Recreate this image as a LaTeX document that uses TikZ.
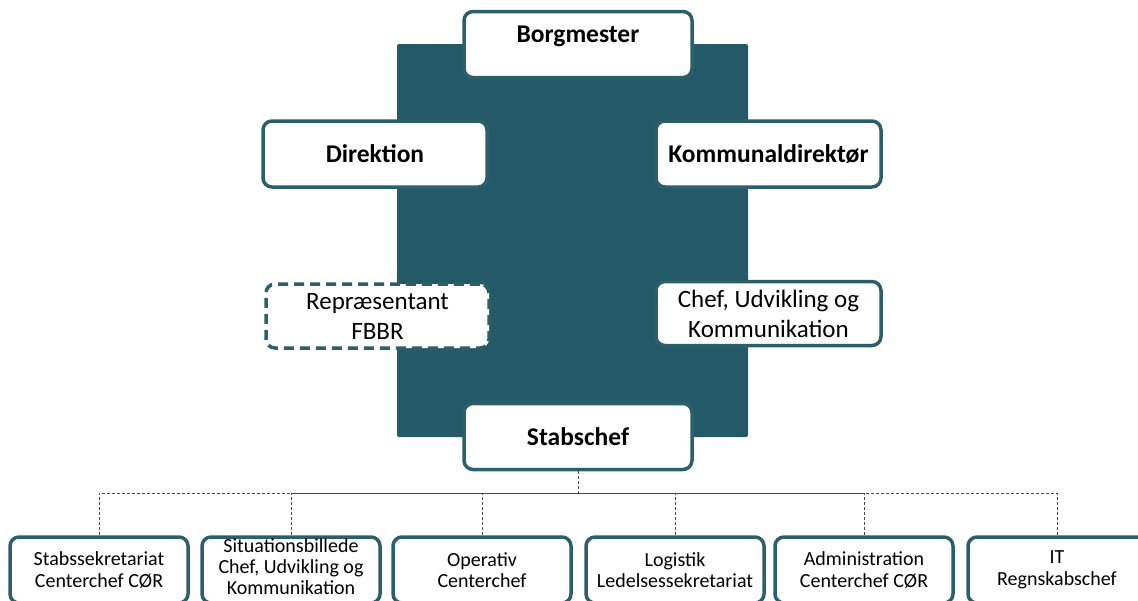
\documentclass[tikz,border=0pt]{standalone}
\usepackage{fontspec}
\setmainfont{Carlito}
\definecolor{panel}{HTML}{245A68}
\definecolor{frame}{HTML}{2C5F6C}
\definecolor{linkgray}{HTML}{4A4A4A}
\tikzset{
  orgbox/.style={draw=frame, line width=3.5pt, rounded corners=9pt, fill=white,
    align=center, inner sep=0pt, anchor=center},
  headbox/.style={orgbox, minimum height=66pt, font=\fontsize{25.5}{30}\selectfont\bfseries},
  midbox/.style={orgbox, minimum height=64pt, font=\fontsize{25}{30}\selectfont},
  unitbox/.style={orgbox, minimum width=178pt, minimum height=66pt, font=\fontsize{20}{21.5}\selectfont},
  link/.style={draw=linkgray, line width=0.9pt, dash pattern=on 3pt off 2pt}
}
\begin{document}
\begin{tikzpicture}[x=1pt,y=-1pt]
\useasboundingbox (0,0) rectangle (1138,600);
\clip (0,0) rectangle (1138,600);
% background panel behind the leadership group
\fill[panel, rounded corners=2pt] (397,44) rectangle (748,437);

% leadership boxes
\node[headbox, minimum width=228pt] (bm) at (578,44.5) {};
\node[font=\fontsize{25.5}{30}\selectfont\bfseries] (bmt) at (578,36) {Borgmester};
\node[headbox, minimum width=224pt] (dir) at (375,154) {Direktion};
\node[headbox, minimum width=225pt] (kd) at (768.5,154) {Kommunaldirektør};
\node[midbox, minimum width=223pt, dash pattern=on 10pt off 6pt] (rep) at (377.5,316) {Repræsentant\\FBBR};
\node[midbox, minimum width=225pt] (cuk) at (768.5,313.5) {Chef, Udvikling og\\Kommunikation};
\node[headbox, minimum width=228pt] (stab) at (578,436.5) {Stabschef};

% staff units
\node[unitbox] (u1) at (99,570) {Stabssekretariat\\Centerchef CØR};
\node[unitbox] (u2) at (291,570) {};
\node[font=\fontsize{20}{21}\selectfont, align=center] (u2t) at (291,566.5) {Situationsbillede\\Chef, Udvikling og\\Kommunikation};
\node[unitbox] (u3) at (482,570) {Operativ\\Centerchef};
\node[unitbox] (u4) at (675,570) {Logistik\\Ledelsessekretariat};
\node[unitbox] (u5) at (864,570) {Administration\\Centerchef CØR};
\node[unitbox] (u6) at (1057,570) {IT\\Regnskabschef};

% dashed reporting lines
\coordinate (bus) at (578,493);
\draw[link] (stab.south) -- (bus);
\foreach \u in {u1,u2,u3,u4,u5,u6}
  \draw[link] (\u.north) |- (bus);
\end{tikzpicture}
\end{document}
